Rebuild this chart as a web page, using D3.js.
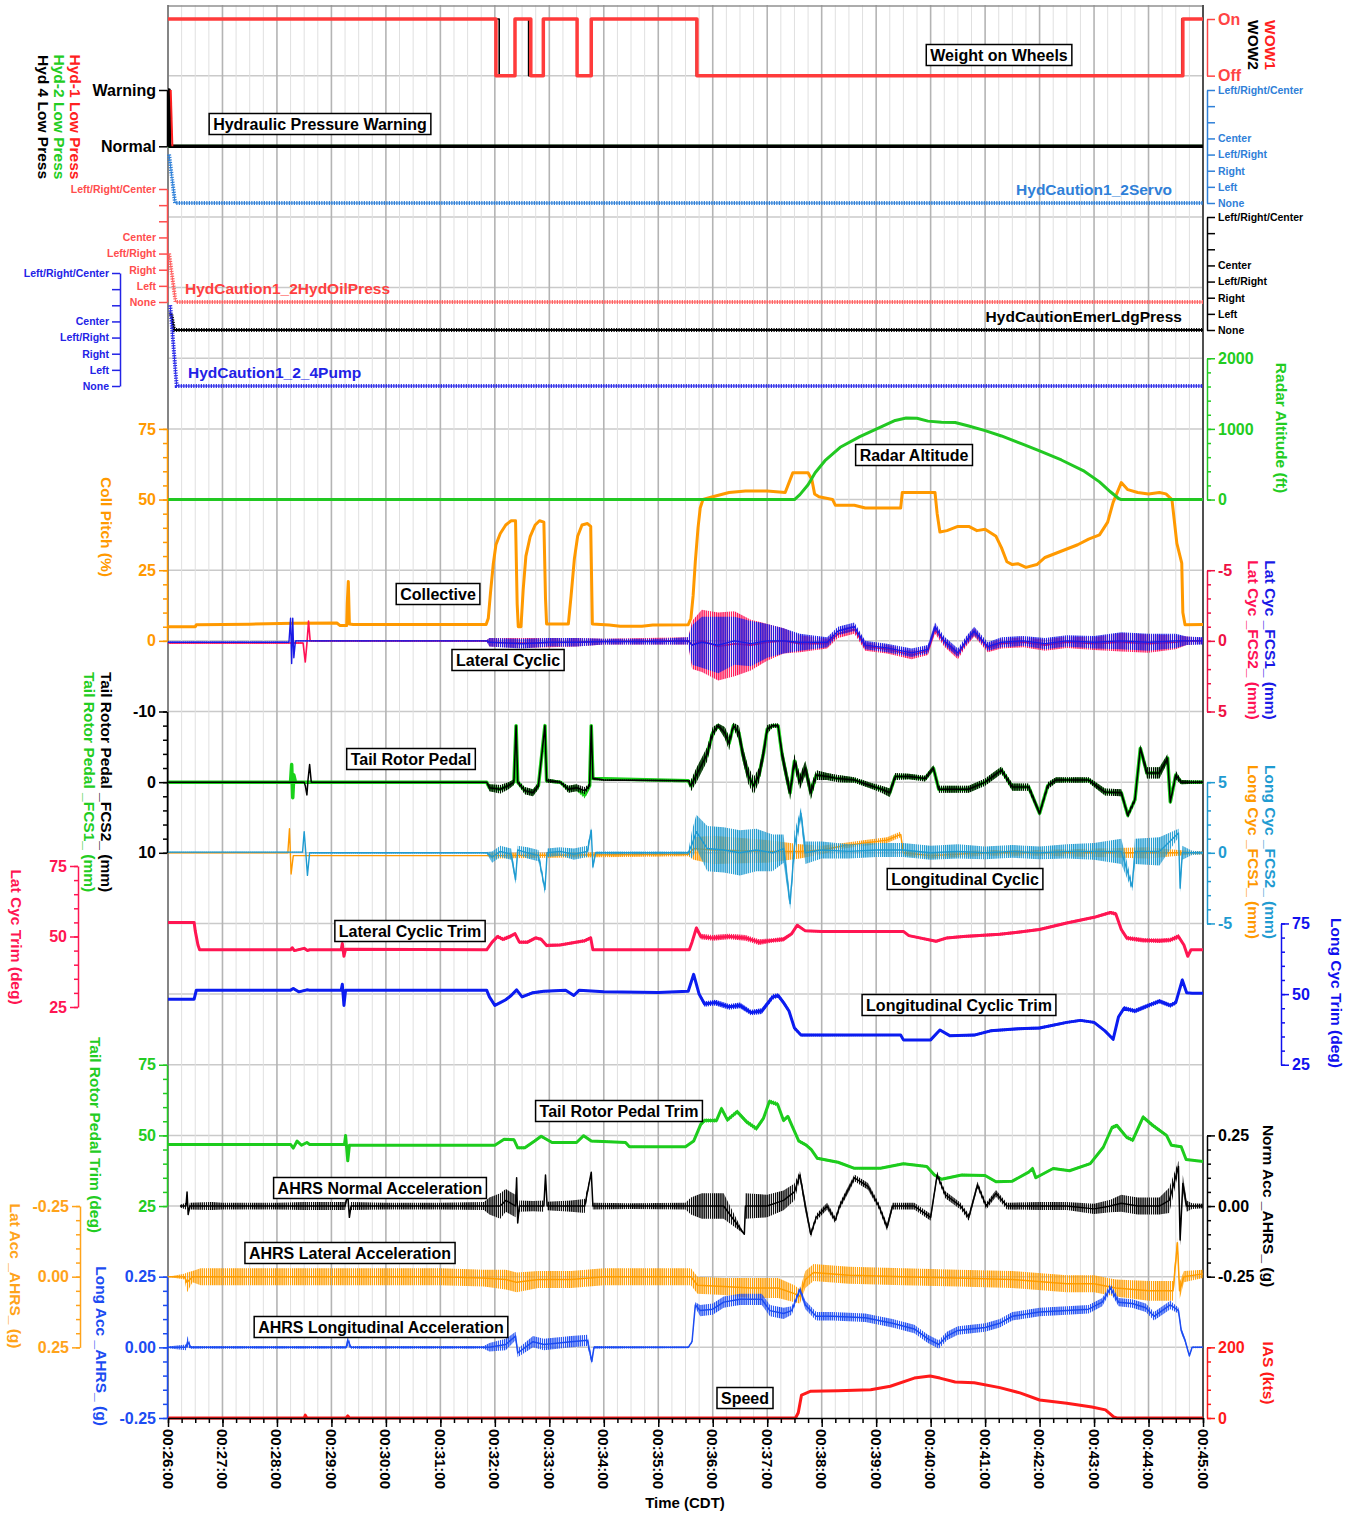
<!DOCTYPE html>
<html><head><meta charset="utf-8">
<script src="https://cdn.jsdelivr.net/npm/d3@7"></script>
<style>body{margin:0;background:#fff}svg text{font-family:"Liberation Sans",Arial,sans-serif;font-weight:bold}</style>
</head><body><svg id="c" width="1359" height="1515"></svg>
<script>
// ---------------- DATA (time in minutes after 00:00) ----------------
const timeLabels = ["00:26:00","00:27:00","00:28:00","00:29:00","00:30:00","00:31:00","00:32:00","00:33:00","00:34:00","00:35:00","00:36:00","00:37:00","00:38:00","00:39:00","00:40:00","00:41:00","00:42:00","00:43:00","00:44:00","00:45:00"];
const hydLevels = ["None","Left","Right","Left/Right","Center","","","Left/Right/Center"];
const wowLevels = ["Off","On"];
const warnLevels = ["Normal","Warning"];

const wow2 = [[26,1],[32.08,0],[32.37,1],[32.62,0],[32.89,1],[33.51,0],[33.77,1],[35.70,0],[44.61,1],[45,1]];
const wow1 = [[26,1],[32.02,0],[32.37,1],[32.66,0],[32.89,1],[33.51,0],[33.77,1],[35.71,0],[44.63,1],[45,1]];
const hyd2Low = [[26,0],[45,0]];
const hyd4Low = [[26,1],[26.02,1],[26.03,0],[45,0]];
const hyd1Low = [[26.05,1],[26.08,0]];
const hydServo = [[26.02,3],[26.13,0],[45,0]];
const hydOil = [[26.02,3],[26.14,0],[45,0]];
const hydEmer = [[26.03,1],[26.06,1],[26.11,0],[45,0]];
const hydPump = [[26.04,5],[26.16,0],[45,0]];

const radarAlt = [[26,0],[37.5,0],[37.6,70],[37.75,210],[37.88,380],[38.06,550],[38.34,740],[38.7,890],[39.07,1020],[39.35,1120],[39.55,1155],[39.75,1150],[39.95,1110],[40.2,1095],[40.45,1090],[40.7,1040],[41.0,975],[41.3,900],[41.7,780],[42.0,690],[42.4,560],[42.8,410],[43.1,250],[43.3,110],[43.45,15],[43.5,0],[45,0]];

const collective = [[26.0,5.0],[26.5,5.0],[26.52,5.7],[27.5,5.9],[28.3,6.2],[29.1,6.3],[29.16,5.4],[29.28,5.4],[29.29,13],[29.31,21],[29.33,6],[29.4,5.8],[31.84,5.8],[31.88,8],[31.92,17],[31.97,27],[32.02,34],[32.1,38],[32.2,41],[32.3,42.5],[32.38,42.5],[32.41,13],[32.43,5],[32.48,5],[32.52,18],[32.57,30],[32.65,37],[32.74,41],[32.82,42.5],[32.9,42],[32.93,15],[32.95,6],[33.35,6],[33.4,16],[33.46,29],[33.52,37],[33.6,41],[33.7,41.5],[33.76,40.5],[33.79,6],[34.1,5.6],[34.3,5.2],[34.7,5.2],[34.9,5.6],[35.55,5.7],[35.6,8],[35.64,16],[35.68,28],[35.73,40],[35.77,47],[35.82,50],[36.0,51],[36.3,52.5],[36.6,53],[37.0,53],[37.33,52.5],[37.4,56],[37.47,59.5],[37.75,59.5],[37.82,57],[37.87,52],[37.95,51],[38.2,50],[38.25,48],[38.6,48],[38.8,47],[39.45,47],[39.48,52.5],[40.08,52.5],[40.12,45],[40.17,38.5],[40.3,39],[40.5,40.5],[40.7,40.5],[40.85,39],[41.0,39.5],[41.2,37],[41.3,33],[41.4,28],[41.5,27],[41.6,27.3],[41.75,26],[41.95,27],[42.1,29.5],[42.3,31],[42.5,32.5],[42.7,34],[42.9,36],[43.1,37.5],[43.25,42],[43.35,49],[43.5,56],[43.62,53.5],[43.8,52.5],[44.0,52],[44.2,52.5],[44.32,52],[44.43,50],[44.52,34.5],[44.61,27.5],[44.63,10],[44.67,5.7],[45.0,5.8]];

// noisy series: [time, value, noise half-width]
const latCycFcs1 = [[26.0,0.1,0.05],[28.22,0.1,0.05],[28.25,-1.6,0],[28.27,1.6,0],[28.29,-1.6,0],[28.31,1.2,0],[28.34,0,0.05],[31.85,0,0.05],[31.9,0.1,0.3],[32.5,0.2,0.35],[33.0,0.1,0.3],[33.5,0.1,0.3],[34.0,0.05,0.2],[35.0,0.05,0.2],[35.55,0,0.25],[35.62,0.3,1.4],[35.8,0.1,1.8],[36.1,0.3,2.0],[36.4,0,1.7],[36.7,0.2,1.6],[37.0,0,1.2],[37.3,0,0.9],[37.6,0.1,0.6],[38.1,0.1,0.35],[38.3,-0.7,0.3],[38.6,-1.0,0.3],[38.8,0.3,0.3],[39.2,0.5,0.3],[39.65,0.85,0.3],[39.95,0.6,0.3],[40.08,-1.0,0.3],[40.25,0,0.3],[40.5,0.85,0.3],[40.65,0,0.3],[40.8,-0.7,0.3],[41.05,0.4,0.3],[41.3,0.1,0.35],[41.7,0,0.35],[42.1,0.2,0.4],[42.5,0,0.4],[43.0,0.1,0.45],[43.5,0,0.6],[44.0,0.1,0.6],[44.5,0,0.5],[44.7,0,0.3],[45.0,0,0.25]];
const latCycFcs2 = [[26.0,0.15,0.05],[28.48,0.15,0.05],[28.52,1.5,0],[28.55,0.2,0],[28.58,-1.4,0],[28.61,0,0.03],[31.85,0,0.05],[31.9,0.1,0.3],[32.5,0.15,0.35],[33.5,0.1,0.3],[34.0,0.05,0.2],[35.55,0,0.25],[35.62,0.3,1.7],[35.8,0,2.2],[36.1,0.4,2.4],[36.4,0.2,2.3],[36.7,0.3,1.8],[37.0,0.1,1.3],[37.3,0,0.9],[37.6,0.2,0.6],[38.1,0.2,0.35],[38.3,-0.5,0.3],[38.6,-0.8,0.3],[38.8,0.4,0.3],[39.2,0.6,0.3],[39.65,1.0,0.3],[39.95,0.7,0.3],[40.08,-0.8,0.3],[40.25,0.1,0.3],[40.5,1.0,0.3],[40.65,0.1,0.3],[40.8,-0.6,0.3],[41.05,0.5,0.3],[41.3,0.2,0.35],[41.7,0.1,0.35],[42.1,0.3,0.4],[42.5,0.1,0.4],[43.0,0.2,0.45],[43.5,0.1,0.65],[44.0,0.2,0.65],[44.5,0.1,0.5],[44.7,0,0.3],[45.0,0,0.2]];

const tailPedalFcs1 = [[26.0,0,0],[28.25,0,0],[28.27,-2.5,0],[28.29,2.2,0],[28.31,-1,0],[28.34,0,0],[31.85,0,0],[31.9,0.8,0.5],[32.1,1.0,0.6],[32.25,0.5,0.5],[32.35,0,0.4],[32.39,-8,0.2],[32.42,0,0.3],[32.55,1.2,0.5],[32.7,1.5,0.5],[32.8,0.5,0.5],[32.92,-8,0.2],[32.95,-0.2,0.3],[33.2,0,0.2],[33.35,1,0.5],[33.5,0.8,0.5],[33.65,1.8,0.5],[33.74,0.5,0.3],[33.77,-8,0.2],[33.8,-0.5,0.2],[35.55,-0.2,0.1],[35.6,0.5,0.8],[35.7,-1,1],[35.8,-2.5,1],[35.9,-4,1],[36.0,-7,0.8],[36.1,-8,0.3],[36.22,-7,0.8],[36.3,-5.5,1],[36.38,-8,0.4],[36.48,-7,1],[36.55,-4,1],[36.65,-1,1.2],[36.75,0.5,1.2],[36.85,-1,1],[36.93,-4,1],[37.0,-7.5,0.6],[37.1,-8,0.3],[37.2,-8,0.3],[37.27,-4,1],[37.35,-1,1],[37.42,1.5,1],[37.5,-3,1],[37.6,0,1],[37.7,-2,1],[37.8,1.5,1],[37.9,-1,0.7],[38.1,-0.8,0.5],[38.3,-0.5,0.5],[38.6,-0.3,0.4],[38.9,0.5,0.4],[39.1,1,0.5],[39.25,1.5,0.6],[39.35,-0.8,0.5],[39.6,-0.8,0.4],[39.9,-0.5,0.4],[40.05,-2,0.4],[40.15,1,0.5],[40.3,1,0.5],[40.7,1,0.5],[41.0,0,0.5],[41.3,-1.7,0.5],[41.5,0.7,0.5],[41.8,0.7,0.5],[42.0,4.4,0.4],[42.15,0.5,0.5],[42.3,-0.3,0.4],[42.9,-0.3,0.4],[43.2,1.4,0.5],[43.5,1.5,0.5],[43.62,4.7,0.4],[43.75,2.5,0.4],[43.85,-4.8,0.5],[43.97,-1.3,0.8],[44.2,-1.3,0.8],[44.35,-3.4,0.6],[44.4,2.8,0.3],[44.5,-1,0.6],[44.6,0,0.3],[45,0,0.2]];
const tailPedalFcs2 = [[26.0,0,0],[28.5,0,0],[28.52,0.5,0],[28.55,1.8,0],[28.57,-0.3,0],[28.6,-2.5,0],[28.63,0,0],[31.85,0,0],[31.9,0.8,0.5],[32.1,1.0,0.6],[32.25,0.5,0.5],[32.35,0,0.4],[32.39,-8,0.2],[32.42,0,0.3],[32.55,1.2,0.5],[32.7,1.5,0.5],[32.8,0.5,0.5],[32.92,-8,0.2],[32.95,-0.2,0.3],[33.2,0,0.2],[33.35,1,0.5],[33.5,0.8,0.5],[33.65,1.2,0.5],[33.74,0.5,0.3],[33.77,-8,0.2],[33.8,-0.5,0.2],[34.0,-0.3,0.1],[35.55,-0.2,0.1],[35.6,0.5,0.8],[35.7,-1,1],[35.8,-2.5,1],[35.9,-4,1],[36.0,-7,0.8],[36.1,-8,0.3],[36.22,-7,0.8],[36.3,-5.5,1],[36.38,-8,0.4],[36.48,-7,1],[36.55,-4,1],[36.65,-1,1.2],[36.75,0.5,1.2],[36.85,-1,1],[36.93,-4,1],[37.0,-7.5,0.6],[37.1,-8,0.3],[37.2,-8,0.3],[37.27,-4,1],[37.35,-1,1],[37.42,1.5,1],[37.5,-3,1],[37.6,0,1],[37.7,-2,1],[37.8,1.5,1],[37.9,-1,0.7],[38.1,-0.8,0.5],[38.3,-0.5,0.5],[38.6,-0.3,0.4],[38.9,0.5,0.4],[39.1,1,0.5],[39.25,1.5,0.6],[39.35,-0.8,0.5],[39.6,-0.8,0.4],[39.9,-0.5,0.4],[40.05,-2,0.4],[40.15,1,0.5],[40.3,1,0.5],[40.7,1,0.5],[41.0,0,0.5],[41.3,-1.7,0.5],[41.5,0.7,0.5],[41.8,0.7,0.5],[42.0,4.4,0.4],[42.15,0.5,0.5],[42.3,-0.3,0.4],[42.9,-0.3,0.4],[43.2,1.4,0.5],[43.5,1.5,0.5],[43.62,4.7,0.4],[43.75,2.5,0.4],[43.85,-4.8,0.5],[43.97,-1.3,0.8],[44.2,-1.3,0.8],[44.35,-3.4,0.6],[44.4,2.8,0.3],[44.5,-1,0.6],[44.6,0,0.3],[45,0,0.2]];

const longCycFcs1 = [[26.0,0,0],[28.2,0,0],[28.23,1.7,0],[28.26,-1.5,0],[28.3,-0.2,0],[31.85,-0.2,0],[31.95,-0.2,0.2],[35.55,-0.1,0.15],[35.65,0.3,0.8],[36.0,0.2,1.0],[37.0,0.1,0.8],[37.6,0.1,0.5],[38.0,0.2,0.3],[38.4,0.5,0.2],[38.8,0.7,0.2],[39.2,0.9,0.2],[39.45,1.3,0.2],[39.5,0.0,0.2],[40.0,-0.2,0.2],[41.0,0,0.2],[42.0,0,0.2],[43.0,0,0.3],[44.0,0,0.4],[44.7,0,0.15],[45.0,0,0.1]];
const longCycFcs2 = [[26.0,0.05,0.03],[28.47,0.05,0.03],[28.5,1.5,0],[28.53,0,0],[28.56,-1.6,0],[28.6,0,0.05],[31.85,0,0.05],[31.95,-0.3,0.4],[32.1,0.1,0.4],[32.3,-0.1,0.4],[32.38,-1.9,0.3],[32.42,0.2,0.3],[32.6,0,0.4],[32.8,-0.2,0.4],[32.92,-2.6,0.3],[32.96,0,0.3],[33.2,0.1,0.3],[33.45,-0.1,0.4],[33.7,0.1,0.4],[33.77,1.6,0.2],[33.8,-1.0,0.2],[33.85,0,0.1],[35.55,0,0.1],[35.62,0.6,1.0],[35.7,1.5,1.2],[35.9,0.3,1.6],[36.2,0.2,1.6],[36.5,0,1.6],[36.8,0.2,1.5],[37.1,0,1.3],[37.3,0.3,1.0],[37.42,-3.6,0.4],[37.5,0.5,1.0],[37.62,2.8,0.4],[37.7,0,0.8],[38.0,0.2,0.6],[38.5,0.1,0.5],[39.0,0.2,0.5],[39.5,0.2,0.5],[40.0,0,0.5],[40.5,0.1,0.5],[41.0,0,0.45],[41.5,0.1,0.45],[42.0,0,0.45],[42.5,0.1,0.5],[43.0,0.1,0.6],[43.5,0.1,0.9],[43.7,-2.4,0.3],[43.75,0.1,0.9],[44.2,0.1,1.0],[44.55,1.4,0.3],[44.58,-2.5,0.3],[44.62,0,0.5],[44.8,0,0.15],[45.0,0,0.1]];

const latCycTrim = [[26.0,55,0],[26.48,55,0],[26.5,52,0.5],[26.55,47,0.5],[26.58,45.3,0],[28.25,45.3,0],[28.28,46,0.4],[28.32,45,0.4],[28.5,45.8,0.4],[28.56,45,0.3],[28.6,45.3,0],[29.18,45.3,0],[29.2,47.5,0],[29.23,43,0],[29.26,45.5,0],[31.85,45.3,0],[31.95,48,0.6],[32.05,50,0.7],[32.15,49,0.7],[32.28,50,0.7],[32.37,51,0.6],[32.45,48,0.6],[32.6,48,0.6],[32.75,49.5,0.6],[32.85,49,0.6],[32.95,46.8,0.6],[33.2,47,0.5],[33.5,48,0.6],[33.65,48.5,0.6],[33.76,49.5,0.6],[33.8,45.3,0],[35.57,45.3,0],[35.62,48,0.8],[35.7,53,0.8],[35.78,50,1.0],[36.0,49.5,1.0],[36.3,50,1.0],[36.6,49.5,1.0],[36.85,48,1.0],[37.05,48.5,0.8],[37.3,49,0.8],[37.45,51,0.6],[37.55,54,0.6],[37.7,52,0.4],[38.0,51.8,0.4],[39.5,51.8,0.3],[39.6,50.3,0.4],[40.1,48.3,0.5],[40.3,49.5,0.5],[40.6,50,0.5],[41.27,50.8,0.5],[41.6,51.5,0.5],[42.0,52.5,0.5],[42.5,54.8,0.5],[43.0,56.8,0.5],[43.3,58.5,0.6],[43.4,58,0.7],[43.5,52.5,0.8],[43.6,49.5,0.8],[43.9,48.7,0.8],[44.2,48.5,0.8],[44.4,48.8,0.8],[44.55,50,0.9],[44.65,47,0.6],[44.72,43,0.3],[44.78,45.3,0],[45.0,45.3,0]];

const longCycTrim = [[26.0,48.2,0],[26.48,48.2,0],[26.52,51.4,0],[28.25,51.4,0],[28.3,52,0.5],[28.4,50.8,0.4],[28.55,51.5,0.4],[28.6,51.4,0],[29.18,51.4,0],[29.2,53.5,0],[29.23,46,0],[29.26,51.4,0],[31.85,51.4,0],[31.9,49,0.4],[32.0,46,0.5],[32.1,47,0.5],[32.2,48,0.5],[32.3,49.5,0.5],[32.4,51.5,0.5],[32.5,49,0.5],[32.7,50.5,0.5],[32.9,51,0.4],[33.3,51.4,0.3],[33.45,49.5,0.4],[33.55,51.4,0.3],[34.0,50.8,0.2],[35.0,50.6,0.2],[35.55,51,0.2],[35.65,57,0.5],[35.75,50,0.8],[35.85,46.5,1],[36.05,47,1],[36.3,45.5,1],[36.5,46,1],[36.7,43.5,1],[36.9,44,1],[37.0,46.5,1],[37.1,49,1],[37.2,49.5,0.8],[37.3,47,0.8],[37.4,44,0.8],[37.5,38,0.8],[37.62,35.5,0.5],[38.5,35.5,0.4],[39.45,35.5,0.3],[39.5,33.8,0.3],[40.0,33.8,0.3],[40.17,37.3,0.4],[40.35,35.3,0.4],[40.8,35.5,0.5],[41.1,37,0.5],[41.6,37.7,0.5],[42.0,38,0.5],[42.5,40,0.5],[42.75,40.7,0.5],[43.0,40,0.5],[43.2,37,0.5],[43.35,34,0.5],[43.45,42,0.7],[43.55,45,0.8],[43.75,44,0.8],[44.0,46,0.8],[44.2,47.5,0.8],[44.4,46,0.8],[44.5,47,0.8],[44.62,55,0.7],[44.7,50.5,0.4],[44.8,50.3,0],[45.0,50.3,0]];

const tailPedalTrim = [[26.0,46.8,0],[28.25,46.8,0],[28.3,45.5,0.4],[28.37,48,0.4],[28.45,46.5,0.3],[28.55,47.5,0.4],[28.6,46.8,0],[29.24,46.8,0],[29.26,50,0],[29.3,41,0],[29.33,46.5,0],[32.0,46.5,0],[32.17,48.6,0.5],[32.35,48.5,0.5],[32.42,45.6,0.5],[32.55,45.6,0.5],[32.73,48,0.5],[32.85,49.7,0.5],[33.05,47.5,0.4],[33.5,47.5,0.3],[33.63,49.9,0.4],[33.77,48,0.4],[34.4,47.5,0.3],[34.47,46,0.3],[35.5,46,0.2],[35.65,48,0.5],[35.78,53.9,0.7],[35.85,55.3,0.7],[36.07,55.3,0.7],[36.16,59.5,0.8],[36.27,55.5,0.8],[36.45,58.4,0.8],[36.62,54.8,0.8],[36.8,52.4,0.8],[36.93,56,0.8],[37.04,62,0.8],[37.19,61,0.8],[37.3,55.3,0.7],[37.38,56.7,0.7],[37.46,53.2,0.7],[37.58,48,0.6],[37.72,46.5,0.6],[37.81,45,0.5],[37.92,41.9,0.5],[38.3,40.5,0.4],[38.59,38.4,0.4],[39.08,38.4,0.4],[39.5,40,0.4],[39.93,39,0.4],[40.07,36,0.4],[40.2,34.5,0.4],[40.57,36,0.4],[41.0,35.8,0.4],[41.2,33.6,0.4],[41.5,33.8,0.4],[41.8,37,0.4],[41.87,38.3,0.4],[41.93,35,0.4],[42.25,38.3,0.4],[42.55,37.5,0.4],[42.93,40,0.5],[43.17,45.8,0.6],[43.33,52.8,0.7],[43.42,53.5,0.7],[43.6,49.3,0.7],[43.71,48.3,0.7],[43.9,56.5,0.7],[44.08,53.5,0.7],[44.33,50,0.6],[44.42,46.5,0.5],[44.6,46,0.4],[44.69,41.5,0.3],[45.0,40.8,0.2]];

const normAcc = [[26.22,0,0.005],[26.33,0,0.012],[26.35,0.05,0],[26.37,-0.03,0],[26.4,0,0.012],[26.8,0,0.014],[27.0,0,0.012],[27.5,0,0.012],[28.0,0,0.012],[28.5,0,0.014],[29.25,0,0.014],[29.3,0.04,0],[29.33,-0.04,0],[29.36,0,0.014],[30.0,0,0.012],[31.0,0,0.012],[31.8,0,0.014],[31.9,0,0.03],[32.1,0,0.045],[32.2,0.02,0.04],[32.38,0,0.04],[32.4,0.1,0],[32.42,-0.06,0],[32.45,0,0.02],[32.7,0,0.018],[32.9,0,0.02],[32.93,0.11,0],[32.96,0,0.015],[33.4,0,0.02],[33.65,0,0.025],[33.77,0.12,0],[33.8,0,0.012],[34.5,0,0.01],[35.5,0,0.012],[35.6,0,0.03],[35.8,0,0.045],[36.2,0,0.045],[36.58,-0.1,0],[36.6,0,0.045],[37.0,0,0.04],[37.3,0.02,0.035],[37.5,0.05,0.03],[37.6,0.11,0.015],[37.7,0,0.02],[37.8,-0.1,0.012],[37.9,-0.04,0.012],[38.1,0,0.012],[38.25,-0.05,0.012],[38.33,0,0.012],[38.6,0.1,0.012],[38.85,0.07,0.012],[39.05,0,0.012],[39.2,-0.075,0.012],[39.3,0,0.012],[39.7,0,0.012],[40.0,-0.04,0.012],[40.12,0.11,0.012],[40.27,0.04,0.012],[40.55,0,0.012],[40.7,-0.04,0.012],[40.86,0.075,0.012],[41.02,0,0.012],[41.2,0.045,0.012],[41.4,0,0.012],[42.0,0,0.014],[42.5,0,0.014],[43.0,-0.01,0.018],[43.3,0,0.022],[43.5,0.01,0.03],[43.8,0,0.03],[44.2,0,0.03],[44.38,0.02,0.045],[44.55,0.14,0.02],[44.58,-0.12,0.02],[44.63,0.08,0.03],[44.7,0,0.02],[44.8,0,0.01],[45.0,0,0.008]];

const latAcc = [[26.0,0,0],[26.3,0,0.01],[26.35,0.02,0.035],[26.45,0,0.02],[26.6,0,0.03],[27.0,0,0.03],[28.0,0,0.03],[29.0,0,0.03],[30.0,0,0.03],[31.0,0,0.03],[31.8,0.005,0.03],[32.2,0.01,0.035],[32.4,0.02,0.035],[32.8,0.01,0.03],[33.4,0.01,0.03],[34.0,0,0.03],[35.0,0,0.03],[35.6,0,0.03],[35.72,0.03,0.03],[36.2,0.035,0.03],[36.7,0.04,0.035],[37.2,0.04,0.035],[37.5,0.06,0.03],[37.6,0.07,0.025],[37.7,0.01,0.03],[37.85,-0.015,0.03],[38.5,-0.005,0.03],[39.5,0,0.03],[40.5,0.005,0.03],[41.5,0.01,0.03],[42.5,0.025,0.03],[43.0,0.025,0.03],[43.4,0.04,0.03],[44.0,0.05,0.035],[44.45,0.05,0.035],[44.53,-0.12,0.02],[44.57,0.05,0.03],[44.65,0,0.02],[45.0,-0.01,0.015]];

const longAcc = [[26.0,0,0.003],[26.33,0,0.01],[26.36,0.02,0.02],[26.42,0,0.005],[27.5,0,0.005],[29.27,0,0.005],[29.3,0.025,0.02],[29.36,0,0.005],[31.8,0,0.005],[31.9,0,0.015],[32.2,0.01,0.02],[32.38,0.04,0.015],[32.42,-0.02,0.015],[32.7,0.02,0.02],[32.9,0.01,0.02],[33.4,0.02,0.02],[33.7,0.025,0.02],[33.78,-0.05,0.01],[33.82,0,0.005],[35.55,0,0.003],[35.62,0.02,0.005],[35.68,0.15,0.01],[35.77,0.13,0.02],[36.0,0.135,0.02],[36.2,0.16,0.02],[36.5,0.17,0.02],[36.9,0.17,0.02],[37.05,0.13,0.02],[37.3,0.12,0.02],[37.45,0.13,0.015],[37.6,0.205,0.01],[37.7,0.15,0.015],[37.9,0.11,0.015],[38.2,0.11,0.015],[38.8,0.105,0.015],[39.3,0.085,0.015],[39.7,0.065,0.015],[39.95,0.03,0.015],[40.15,0.01,0.015],[40.3,0.04,0.015],[40.5,0.06,0.015],[41.0,0.07,0.015],[41.27,0.085,0.015],[41.5,0.11,0.015],[42.0,0.125,0.015],[42.5,0.13,0.015],[42.9,0.135,0.015],[43.15,0.16,0.015],[43.3,0.21,0.015],[43.45,0.16,0.015],[43.7,0.155,0.015],[43.95,0.14,0.015],[44.1,0.11,0.015],[44.4,0.15,0.015],[44.55,0.13,0.01],[44.6,0.06,0.01],[44.67,0.025,0.008],[44.75,-0.03,0.005],[44.8,0,0.003],[45.0,0,0.002]];

const ias = [[26.0,0],[28.5,0],[28.52,8],[28.55,0],[29.27,0],[29.3,6],[29.33,0],[37.52,0],[37.57,15],[37.63,65],[37.8,76],[38.3,77],[38.9,80],[39.26,90],[39.7,113],[39.99,119],[40.17,113],[40.45,102],[40.8,100],[41.27,86],[41.64,71],[42.0,51],[42.5,42],[42.96,31],[43.21,23],[43.36,3],[43.42,0],[45,0]];

// ---------------- LAYOUT ----------------
const svg = d3.select("#c");
const defs = svg.append("defs");
const FONT = '"Liberation Sans",Arial,sans-serif';
const PL = 168, PR = 1203, PT = 5, PB = 1418;
const G = (PB - PT) / 20;
const gy = k => PT + G * k;
const x = d3.scaleLinear().domain([26, 45]).range([PL, PR]);

const yWow = d3.scaleLinear().domain([0,1]).range([gy(1), 19]);
const yWarn = d3.scaleLinear().domain([0,1]).range([gy(2), 90]);
const yServo = d3.scaleLinear().domain([0,7]).range([203, 90]);
const yOil = d3.scaleLinear().domain([0,7]).range([302, 189]);
const yEmer = d3.scaleLinear().domain([0,7]).range([330, 217]);
const yPump = d3.scaleLinear().domain([0,7]).range([386, 273]);
const yRad = d3.scaleLinear().domain([0,2000]).range([gy(7), gy(5)]);
const yColl = d3.scaleLinear().domain([0,75]).range([gy(9), gy(6)]);
const yLatCyc = d3.scaleLinear().domain([-5,5]).range([gy(8), gy(10)]);
const yPedal = d3.scaleLinear().domain([-10,10]).range([gy(10), gy(12)]);
const yLongCyc = d3.scaleLinear().domain([-5,5]).range([gy(13), gy(11)]);
const yLatTrim = d3.scaleLinear().domain([25,75]).range([1007, 866]);
const yLongTrim = d3.scaleLinear().domain([25,75]).range([gy(15), gy(13)]);
const yPedalTrim = d3.scaleLinear().domain([25,75]).range([gy(17), gy(15)]);
const yNorm = d3.scaleLinear().domain([-0.25,0.25]).range([gy(18), gy(16)]);
const yLatAcc = d3.scaleLinear().domain([-0.25,0.25]).range([gy(17), gy(19)]);
const yLongAcc = d3.scaleLinear().domain([-0.25,0.25]).range([gy(20), gy(18)]);
const yIas = d3.scaleLinear().domain([0,200]).range([gy(20), gy(19)]);

// grid
const grid = svg.append("g");
for (let k = 1; k < 20; k++) grid.append("line").attr("x1",PL).attr("x2",PR).attr("y1",gy(k)).attr("y2",gy(k)).attr("stroke","#cacaca").attr("stroke-width",1.5);
d3.range(0, 19*4+1).forEach(i => {
  const m = 26 + i/4, major = i % 4 === 0;
  grid.append("line").attr("x1",x(m)).attr("x2",x(m)).attr("y1",PT).attr("y2",PB)
    .attr("stroke", major ? "#b4b4b4" : "#e0e0e0").attr("stroke-width", major ? 1.6 : 1);
});
svg.append("line").attr("x1",PL).attr("x2",PR).attr("y1",PT+1).attr("y2",PT+1).attr("stroke","#909090").attr("stroke-width",1.5);
svg.append("line").attr("x1",PL).attr("x2",PL).attr("y1",PT).attr("y2",PB).attr("stroke","#707070").attr("stroke-width",1.5);
svg.append("line").attr("x1",PR).attr("x2",PR).attr("y1",PT).attr("y2",PB).attr("stroke","#505050").attr("stroke-width",2);

// hatch pattern (vertical strokes) used to render the noise envelope of dense signals
const patCache = {};
function hatch(color) {
  if (patCache[color]) return patCache[color];
  const id = "h" + Object.keys(patCache).length;
  const p = defs.append("pattern").attr("id",id).attr("patternUnits","userSpaceOnUse").attr("width",2.1).attr("height",20);
  p.append("rect").attr("x",0).attr("y",0).attr("width",1.3).attr("height",20).attr("fill",color);
  patCache[color] = `url(#${id})`;
  return patCache[color];
}

function plot(data, ys, color, w, opts = {}) {
  const g = svg.append("g");
  if (data[0].length > 2) {
    g.append("path").datum(data)
      .attr("d", d3.area().x(d => x(d[0])).y0(d => ys(d[1] - d[2])).y1(d => ys(d[1] + d[2])))
      .attr("fill", hatch(color));
  }
  g.append("path").datum(data)
    .attr("d", d3.line().x(d => x(d[0])).y(d => ys(d[1])).curve(opts.curve || d3.curveLinear))
    .attr("fill","none").attr("stroke",color).attr("stroke-width",w).attr("stroke-linejoin","round");
  if (opts.dotted) {
    g.append("path").datum(data)
      .attr("d", d3.line().x(d => x(d[0])).y(d => ys(d[1])))
      .attr("fill","none").attr("stroke",color).attr("stroke-width",opts.dotted).attr("stroke-dasharray","1.2 1.3");
  }
}

// top section
plot(wow2, yWow, "#000", 1.6, {curve: d3.curveStepAfter});
plot(wow1, yWow, "#ff3b3b", 3.5, {curve: d3.curveStepAfter});
plot(hyd2Low, yWarn, "#22cc22", 3);
plot(hyd4Low, yWarn, "#000", 3.5);
plot(hyd1Low, yWarn, "#ff2020", 2);
plot(hydServo, yServo, "#2f80d8", 1, {dotted: 4});
plot(hydOil, yOil, "#ff6060", 1, {dotted: 4});
plot(hydEmer, yEmer, "#000", 2, {dotted: 4});
plot(hydPump, yPump, "#2b2be8", 1, {dotted: 4});

// middle
plot(collective, yColl, "#ff9900", 3);
plot(radarAlt, yRad, "#22c822", 3);
plot(latCycFcs2, yLatCyc, "#ff1155", 1.6);
plot(latCycFcs1, yLatCyc, "#1a1ae6", 1.4);
plot(tailPedalFcs1, yPedal, "#19d119", 3.5);
plot(tailPedalFcs2, yPedal, "#000", 1.5);
plot(longCycFcs1, yLongCyc, "#ff9900", 1.4);
plot(longCycFcs2, yLongCyc, "#1f9bd1", 1.4);
plot(latCycTrim, yLatTrim, "#ff1552", 3);
plot(longCycTrim, yLongTrim, "#0b1cf0", 3);
plot(tailPedalTrim, yPedalTrim, "#1dcc1d", 3);
plot(normAcc, yNorm, "#000", 1.5);
plot(latAcc, yLatAcc, "#ff9d00", 1.5);
plot(longAcc, yLongAcc, "#1c4cf2", 1.5);
plot(ias, yIas, "#ff1a1a", 3);

// boxed labels
function boxLabel(txt, cx, cy) {
  const g = svg.append("g");
  const t = g.append("text").attr("x",cx).attr("y",cy).attr("text-anchor","middle").attr("dominant-baseline","central")
    .attr("font-size",16).attr("fill","#000").text(txt);
  const bb = t.node().getBBox();
  g.insert("rect","text").attr("x",bb.x-4).attr("y",cy-10.5).attr("width",bb.width+8).attr("height",21)
    .attr("fill","#fff").attr("stroke","#000").attr("stroke-width",1.5);
}
boxLabel("Weight on Wheels", 999, 55);
boxLabel("Hydraulic Pressure Warning", 320, 124);
boxLabel("Radar Altitude", 914, 455);
boxLabel("Collective", 438, 594);
boxLabel("Lateral Cyclic", 508, 660);
boxLabel("Tail Rotor Pedal", 411, 759);
boxLabel("Longitudinal Cyclic", 965, 879);
boxLabel("Lateral Cyclic Trim", 410, 931);
boxLabel("Longitudinal Cyclic Trim", 959, 1005);
boxLabel("Tail Rotor Pedal Trim", 619, 1111);
boxLabel("AHRS Normal Acceleration", 380, 1188);
boxLabel("AHRS Lateral Acceleration", 350, 1253);
boxLabel("AHRS Longitudinal Acceleration", 381, 1327);
boxLabel("Speed", 745, 1398);

function plainLabel(txt, px, py, color, anchor) {
  svg.append("text").attr("x",px).attr("y",py).attr("text-anchor",anchor).attr("dominant-baseline","central")
    .attr("font-size",15.5).attr("fill",color).text(txt);
}
plainLabel("HydCaution1_2Servo", 1172, 189, "#2f80d8", "end");
plainLabel("HydCaution1_2HydOilPress", 185, 288, "#ff4040", "start");
plainLabel("HydCautionEmerLdgPress", 1182, 316, "#000", "end");
plainLabel("HydCaution1_2_4Pump", 188, 372, "#2222e6", "start");

// axes
const num = v => String(v);
const f2 = v => v.toFixed(2);
function axis(ys, side, ax, color, majors, minors, fmt, fs = 16) {
  const g = svg.append("g").attr("transform", `translate(${ax},0)`);
  const mk = side === "left" ? d3.axisLeft : d3.axisRight;
  if (minors) {
    g.append("g").call(mk(ys).tickValues(minors).tickSize(4).tickSizeOuter(0).tickFormat(""))
      .call(s => { s.select(".domain").remove(); s.selectAll("line").attr("stroke",color).attr("stroke-width",1.5); });
  }
  g.append("g").call(mk(ys).tickValues(majors).tickSize(8).tickSizeOuter(0).tickPadding(3).tickFormat(fmt))
    .call(s => {
      s.selectAll("line,path").attr("stroke",color).attr("stroke-width",1.5);
      s.selectAll("text").attr("fill",color).attr("font-size",fs).attr("font-weight","bold").attr("font-family",FONT);
    });
}
const hydFmt = v => hydLevels[v];
const lv = d3.range(0, 8);
axis(yWow, "right", 1207, "#ff4444", [0,1], null, v => wowLevels[v]);
axis(yWarn, "left", 167, "#000", [0,1], null, v => warnLevels[v]);
axis(yServo, "right", 1207, "#2f80d8", lv, null, hydFmt, 10.5);
axis(yOil, "left", 167, "#ff4d4d", lv, null, hydFmt, 10.5);
axis(yEmer, "right", 1207, "#000", lv, null, hydFmt, 10.5);
axis(yPump, "left", 120, "#2323e6", lv, null, hydFmt, 10.5);
axis(yRad, "right", 1207, "#22cc22", [0,1000,2000], d3.range(0,2001,200), num);
axis(yColl, "left", 167, "#ff9900", [0,25,50,75], d3.range(0,76,5), num);
axis(yLatCyc, "right", 1207, "#ee1144", [-5,0,5], d3.range(-5,6,1), num);
axis(yPedal, "left", 167, "#000", [-10,0,10], d3.range(-10,11,2), num);
axis(yLongCyc, "right", 1207, "#1f9bd1", [-5,0,5], d3.range(-5,6,1), num);
axis(yLatTrim, "left", 78, "#ff1552", [25,50,75], d3.range(25,76,5), num);
axis(yLongTrim, "right", 1281, "#1010ee", [25,50,75], d3.range(25,76,5), num);
axis(yPedalTrim, "left", 167, "#22cc22", [25,50,75], d3.range(25,76,5), num);
axis(yNorm, "right", 1207, "#000", [-0.25,0,0.25], d3.range(-5,6).map(i => i*0.05), f2);
axis(yLatAcc, "left", 80, "#ffa31a", [-0.25,0,0.25], d3.range(-5,6).map(i => i*0.05), f2);
axis(yLongAcc, "left", 167, "#1c4cf2", [-0.25,0,0.25], d3.range(-5,6).map(i => i*0.05), f2);
axis(yIas, "right", 1207, "#ff1a1a", [0,200], d3.range(0,201,40), num);

// vertical axis titles
function vtitle(txt, cx, cy, color, fs = 15.5) {
  svg.append("text").attr("transform", `translate(${cx},${cy}) rotate(90)`).attr("text-anchor","middle")
    .attr("dominant-baseline","central").attr("fill",color).attr("font-size",fs).text(txt);
}
vtitle("Hyd-1 Low Press", 75, 117, "#ff2020");
vtitle("Hyd-2 Low Press", 59, 117, "#22cc22");
vtitle("Hyd 4 Low Press", 43, 117, "#000");
vtitle("WOW1", 1270, 45, "#ff2020");
vtitle("WOW2", 1253, 45, "#000");
vtitle("Coll Pitch (%)", 106, 527, "#ff9900");
vtitle("Radar Altitude (ft)", 1281, 428, "#22cc22");
vtitle("Lat Cyc _FCS1_ (mm)", 1270, 640, "#1a1ae6");
vtitle("Lat Cyc _FCS2_ (mm)", 1253, 640, "#ff1155");
vtitle("Tail Rotor Pedal _FCS2_ (mm)", 106, 782, "#000");
vtitle("Tail Rotor Pedal _FCS1_ (mm)", 89, 782, "#22cc22");
vtitle("Long Cyc _FCS2_ (mm)", 1270, 852, "#1f9bd1");
vtitle("Long Cyc _FCS1_ (mm)", 1253, 852, "#ff9900");
vtitle("Lat Cyc Trim (deg)", 16, 937, "#ff1552");
vtitle("Long Cyc Trim (deg)", 1336, 993, "#1010ee");
vtitle("Tail Rotor Pedal Trim (deg)", 95, 1135, "#22cc22");
vtitle("Norm Acc _AHRS_ (g)", 1268, 1206, "#000");
vtitle("Lat Acc _AHRS_ (g)", 15, 1276, "#ffa31a");
vtitle("Long Acc _AHRS_ (g)", 101, 1346, "#1c4cf2");
vtitle("IAS (kts)", 1268, 1373, "#ff1a1a");

// bottom time axis
const xa = svg.append("g").attr("transform", `translate(0,${PB})`);
xa.call(d3.axisBottom(x).tickValues(d3.range(0, 77).map(i => 26 + i/4)).tickSize(5).tickSizeOuter(0).tickFormat(""))
  .call(s => { s.selectAll("line,path").attr("stroke","#000").attr("stroke-width",1.5); });
xa.append("g").call(d3.axisBottom(x).tickValues(d3.range(26, 46)).tickSize(9).tickSizeOuter(0).tickFormat(""))
  .call(s => { s.select(".domain").remove(); s.selectAll("line").attr("stroke","#000").attr("stroke-width",1.5); });
timeLabels.forEach((lab, i) => {
  svg.append("text").attr("transform", `translate(${x(26 + i)},${PB + 11}) rotate(90)`)
    .attr("text-anchor","start").attr("dominant-baseline","central").attr("font-size",15).attr("fill","#000").text(lab);
});
svg.append("text").attr("x",685).attr("y",1502).attr("text-anchor","middle").attr("dominant-baseline","central")
  .attr("font-size",15).attr("fill","#000").text("Time (CDT)");
</script></body></html>
